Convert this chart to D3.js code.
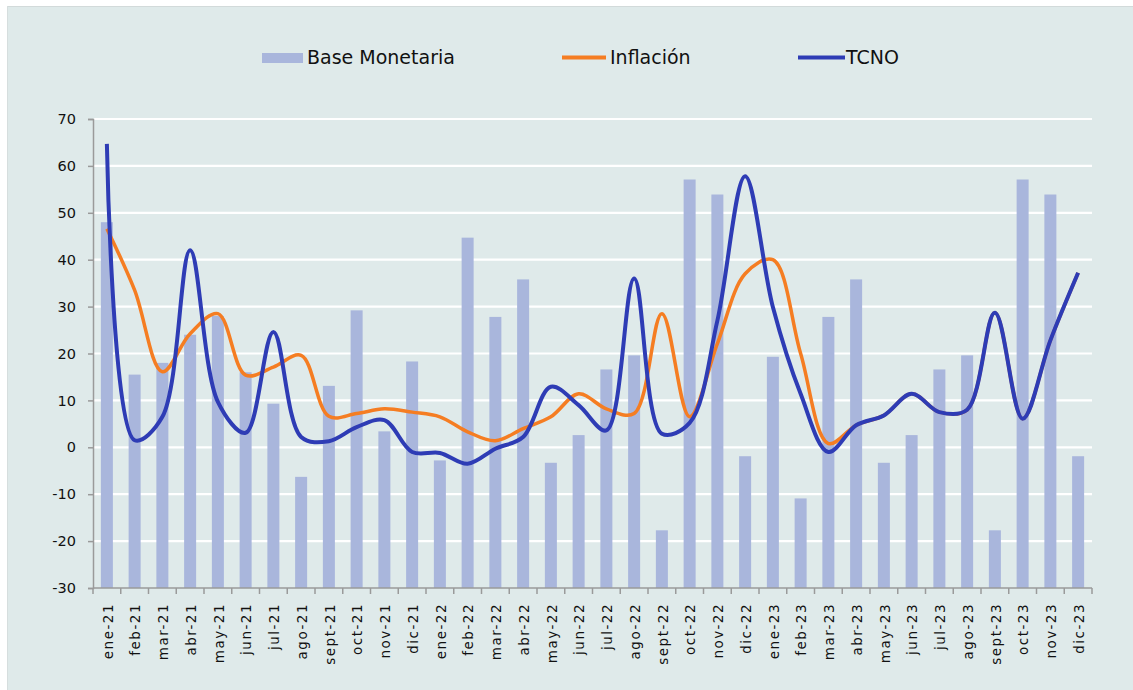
<!DOCTYPE html>
<html><head><meta charset="utf-8">
<script src="https://cdn.jsdelivr.net/npm/d3@7"></script>
<style>body{margin:0;background:#fff;overflow:hidden}</style>
</head><body>
<svg id="c" width="1133" height="690"></svg>
<script>
const months = ["ene-21","feb-21","mar-21","abr-21","may-21","jun-21","jul-21","ago-21","sept-21","oct-21","nov-21","dic-21",
  "ene-22","feb-22","mar-22","abr-22","may-22","jun-22","jul-22","ago-22","sept-22","oct-22","nov-22","dic-22",
  "ene-23","feb-23","mar-23","abr-23","may-23","jun-23","jul-23","ago-23","sept-23","oct-23","nov-23","dic-23"];
const baseMonetaria = [48, 15.5, 18, 24, 28, 16, 9.3, -6.3, 13.1, 29.2, 3.4, 18.3,
  -2.8, 44.7, 27.8, 35.8, -3.3, 2.6, 16.6, 19.6, -17.7, 57.1, 53.9, -1.9,
  19.3, -10.9, 27.8, 35.8, -3.3, 2.6, 16.6, 19.6, -17.7, 57.1, 53.9, -1.9];
const inflacion = [46.6, 33.5, 16.1, 24.2, 28.5, 15.4, 17.1, 19.6, 6.6, 7.2, 8.2, 7.5,
  6.5, 3.3, 1.4, 4.0, 6.5, 11.4, 8.2, 7.2, 28.5, 6.5, 22.1, 37,
  40, 20, 0.8, 4.7, 6.8, 11.4, 7.5, 8, 28.7, 6.1, 22.8, 37.2];
const tcno = [64.7, 1.5, 6.5, 42, 9.7, 3.1, 24.6, 2.2, 1.3, 4.3, 5.8, -1.0,
  -1.2, -3.5, -0.3, 2.2, 12.9, 9, 3.6, 36, 2.9, 5.2, 27, 57.8,
  29.9, 11.4, -1.0, 4.7, 6.8, 11.4, 7.5, 8, 28.7, 6.1, 22.8, 37.2];
const yTicks = [70, 60, 50, 40, 30, 20, 10, 0, -10, -20, -30];
const legendItems = ["Base Monetaria", "Inflación", "TCNO"];

const COL_BAR = "#a9b6dc", COL_INF = "#f57d22", COL_TC = "#2e3cb5";
const svg = d3.select("#c");
const font = "'DejaVu Sans', Verdana, sans-serif";

// panel
svg.append("rect").attr("x", 7).attr("y", 6).attr("width", 1126).attr("height", 684)
  .attr("fill", "#dfeaea");
svg.append("line").attr("x1", 7).attr("x2", 1133).attr("y1", 6.5).attr("y2", 6.5)
  .attr("stroke", "#d2dada").attr("stroke-width", 1);
svg.append("line").attr("x1", 7.5).attr("x2", 7.5).attr("y1", 6).attr("y2", 690)
  .attr("stroke", "#d6dede").attr("stroke-width", 1);

const x = d3.scaleBand().domain(months).range([93, 1092]).padding(0);
const y = d3.scaleLinear().domain([-30, 70]).range([588, 119]);
const bw = x.bandwidth();

// gridlines
svg.append("g").selectAll("line").data(yTicks.filter(d => d > -30)).join("line")
  .attr("x1", 94).attr("x2", 1092).attr("y1", d => y(d)).attr("y2", d => y(d))
  .attr("stroke", "#ffffff").attr("stroke-width", 2.2);

// bars from axis minimum
svg.append("g").selectAll("rect").data(months).join("rect")
  .attr("x", (m) => x(m) + bw / 2 - 6)
  .attr("width", 12)
  .attr("y", (m, i) => y(baseMonetaria[i]))
  .attr("height", (m, i) => y(-30) - y(baseMonetaria[i]))
  .attr("fill", COL_BAR);

// axes
const yAxis = d3.axisLeft(y).tickValues(yTicks).tickSize(5).tickPadding(12).tickFormat(d => String(d));
const gy = svg.append("g").attr("transform", "translate(93,0)").call(yAxis);
gy.select(".domain").attr("stroke", "#9a9a9a").attr("stroke-width", 1.5);
gy.selectAll(".tick line").attr("stroke", "#9a9a9a").attr("stroke-width", 1.5);
gy.selectAll(".tick text").attr("font-family", font).attr("font-size", 14.5).attr("fill", "#111");

const gx = svg.append("g").attr("transform", "translate(0,588)");
gx.append("line").attr("x1", 93).attr("x2", 1092).attr("y1", 0).attr("y2", 0)
  .attr("stroke", "#9a9a9a").attr("stroke-width", 1.5);
const bounds = months.map(m => x(m)).concat([x(months[months.length - 1]) + bw]);
gx.selectAll("line.t").data(bounds).join("line").attr("class", "t")
  .attr("x1", d => d).attr("x2", d => d).attr("y1", 0).attr("y2", 6)
  .attr("stroke", "#9a9a9a").attr("stroke-width", 1.5);
gx.selectAll("text").data(months).join("text")
  .attr("y", 0).attr("dy", "0.35em")
  .attr("text-anchor", "end")
  .attr("font-family", font).attr("font-size", 13.5).attr("letter-spacing", 1.5)
  .attr("fill", "#111")
  .attr("transform", m => `translate(${x(m) + bw / 2 + 1},15) rotate(-90)`)
  .text(m => m);

// lines
const line = d3.line().curve(d3.curveCatmullRom.alpha(0.5))
  .x((d, i) => x(months[i]) + bw / 2).y(d => y(d));
svg.append("path").datum(inflacion).attr("d", line).attr("fill", "none")
  .attr("stroke", COL_INF).attr("stroke-width", 3.5).attr("stroke-linejoin", "round");
svg.append("path").datum(tcno).attr("d", line).attr("fill", "none")
  .attr("stroke", COL_TC).attr("stroke-width", 4).attr("stroke-linejoin", "round");

// legend
const lg = svg.append("g");
lg.append("rect").attr("x", 262).attr("y", 53).attr("width", 41).attr("height", 10).attr("fill", COL_BAR);
lg.append("text").attr("x", 307).attr("y", 57).attr("dy", "0.35em").text(legendItems[0]);
lg.append("line").attr("x1", 562).attr("x2", 606).attr("y1", 57.5).attr("y2", 57.5)
  .attr("stroke", COL_INF).attr("stroke-width", 4);
lg.append("text").attr("x", 610).attr("y", 57).attr("dy", "0.35em").text(legendItems[1]);
lg.append("line").attr("x1", 798).attr("x2", 845).attr("y1", 57.5).attr("y2", 57.5)
  .attr("stroke", COL_TC).attr("stroke-width", 4);
lg.append("text").attr("x", 846).attr("y", 57).attr("dy", "0.35em").text(legendItems[2]);
lg.selectAll("text").attr("font-family", font).attr("font-size", 19).attr("fill", "#111");
</script>
</body></html>
